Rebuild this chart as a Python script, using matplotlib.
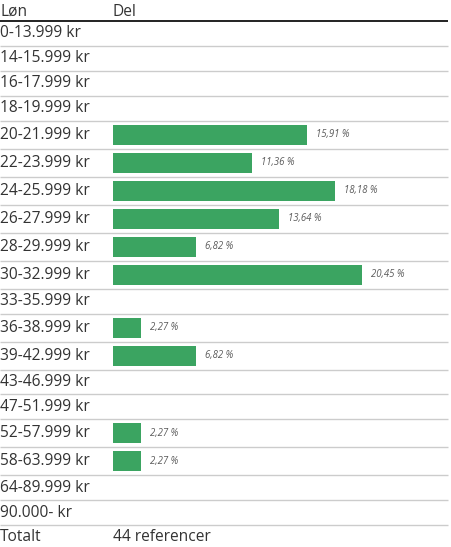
import matplotlib
matplotlib.use("Agg")
import matplotlib.pyplot as plt
from matplotlib.transforms import blended_transform_factory

categories = ["0-13.999 kr", "14-15.999 kr", "16-17.999 kr", "18-19.999 kr",
              "20-21.999 kr", "22-23.999 kr", "24-25.999 kr", "26-27.999 kr",
              "28-29.999 kr", "30-32.999 kr", "33-35.999 kr", "36-38.999 kr",
              "39-42.999 kr", "43-46.999 kr", "47-51.999 kr", "52-57.999 kr",
              "58-63.999 kr", "64-89.999 kr", "90.000- kr"]
shares = [0, 0, 0, 0, 15.91, 11.36, 18.18, 13.64, 6.82, 20.45, 0, 2.27,
          6.82, 0, 0, 2.27, 2.27, 0, 0]
header_left = "Løn"
header_right = "Del"
total_label = "Totalt"
total_value = "44 referencer"

W, H = 451, 547
fig = plt.figure(figsize=(W / 100, H / 100), dpi=100)
ax = fig.add_axes([0, 0, 1, 1])
ax.axis("off")

# x in percent units: 0% at 113 px, 12.2 px per percent
px_per_pct = 12.2
x0_px = 113
ax.set_xlim(-x0_px / px_per_pct, (W - x0_px) / px_per_pct)
ax.set_ylim(H, 0)  # y in pixel-like layout units

font = "Open Sans"
text_color = "#333333"
label_size = 11.2
bar_color = "#3ba461"

tr = blended_transform_factory(ax.transAxes, ax.transData)
line_right = 448 / W

# header
header_y = 12
ax.text(0, header_y, header_left, transform=tr, ha="left", va="center",
        fontsize=label_size, family=font, color=text_color)
ax.text(0, header_y, header_right, ha="left", va="center",
        fontsize=label_size, family=font, color=text_color)
top = 21
ax.plot([0, line_right], [top, top], transform=tr, color="#222222", lw=1.4,
        solid_capstyle="butt")

y = top
for cat, val in zip(categories, shares):
    h = 28 if val > 0 else 24.9
    yc = y + h / 2
    ax.text(0, yc, cat, transform=tr, ha="left", va="center",
            fontsize=label_size, family=font, color=text_color)
    if val > 0:
        ax.barh(yc, val, height=20, left=0, color=bar_color)
        ax.text(val + 9 / px_per_pct, yc, f"{val:.2f} %".replace(".", ","),
                ha="left", va="center", fontsize=6.9, style="italic",
                family=font, color="#5a5a5a")
    y += h
    ax.plot([0, line_right], [y, y], transform=tr, color="#cccccc", lw=1.0,
            solid_capstyle="butt")

yt = (y + H) / 2 + 1
ax.text(0, yt, total_label, transform=tr, ha="left", va="center",
        fontsize=label_size, family=font, color=text_color)
ax.text(0, yt, total_value, ha="left", va="center",
        fontsize=label_size, family=font, color=text_color)

fig.savefig("out.png", dpi=100)
